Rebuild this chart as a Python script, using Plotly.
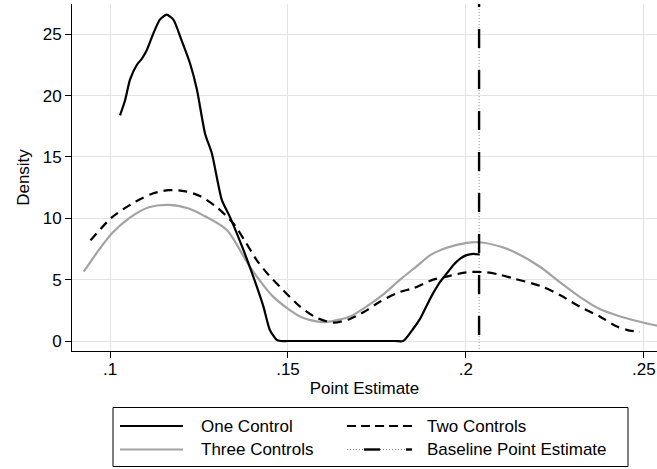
import plotly.graph_objects as go

# ---------------- data ----------------
one_x = [0.1028, 0.1042, 0.1056, 0.1075, 0.1089, 0.1103, 0.1122, 0.1140, 0.1159,
         0.1178, 0.1201, 0.1225, 0.1244, 0.1267, 0.1286, 0.1314, 0.1337, 0.1375,
         0.1403, 0.1431, 0.1449, 0.1468, 0.1480, 0.1500, 0.1800, 0.1824, 0.1852,
         0.1871, 0.1890, 0.1908, 0.1927, 0.1946, 0.1965, 0.1983, 0.2002, 0.2020,
         0.2039]
one_y = [18.4, 19.6, 21.3, 22.5, 23.0, 23.7, 25.1, 26.2, 26.6,
         26.2, 24.5, 22.6, 20.5, 16.9, 15.3, 11.5, 10.1, 7.4,
         5.2, 2.8, 0.9, 0.1, 0.0, 0.0, 0.0, 0.0, 1.0,
         1.8, 2.9, 3.9, 4.8, 5.5, 6.2, 6.7, 7.0, 7.1,
         7.05]

two_x = [0.0945, 0.1006, 0.1071, 0.1118, 0.1165, 0.1212, 0.1254, 0.1300, 0.1346,
         0.1380, 0.1412, 0.1445, 0.1478, 0.1534, 0.1580, 0.1627, 0.1674, 0.1721,
         0.1758, 0.1815, 0.1852, 0.1908, 0.1946, 0.2002, 0.2058, 0.2096, 0.2133,
         0.2208, 0.2264, 0.2320, 0.2376, 0.2423, 0.2460, 0.2489]
two_y = [8.2, 10.1, 11.35, 12.0, 12.3, 12.2, 11.8, 10.9, 9.6,
         8.1, 6.6, 5.4, 4.4, 2.8, 1.9, 1.5, 1.8, 2.5,
         3.2, 4.0, 4.3, 5.0, 5.25, 5.6, 5.6, 5.4, 5.1,
         4.5, 3.75, 2.8, 2.0, 1.2, 0.85, 0.75]

three_x = [0.0926, 0.0968, 0.1006, 0.1053, 0.1109, 0.1165, 0.1221, 0.1258, 0.1328,
           0.1393, 0.1459, 0.1534, 0.1580, 0.1609, 0.1674, 0.1720, 0.1768, 0.1815,
           0.1862, 0.1900, 0.1946, 0.2002, 0.2039, 0.2096, 0.2133, 0.2208, 0.2264,
           0.2320, 0.2376, 0.2423, 0.2489, 0.2545]
three_y = [5.65, 7.4, 8.8, 10.0, 10.9, 11.1, 10.8, 10.3, 9.05,
           6.05, 3.6, 2.0, 1.6, 1.55, 2.0, 2.8, 3.8, 5.0,
           6.1, 7.0, 7.6, 8.0, 8.05, 7.7, 7.3, 6.05, 4.8,
           3.6, 2.6, 2.1, 1.57, 1.2]

baseline_estimate = 0.2037

x_tick_vals = [0.10, 0.15, 0.20, 0.25]
x_tick_text = [".1", ".15", ".2", ".25"]
y_tick_vals = [0, 5, 10, 15, 20, 25]
y_tick_text = ["0", "5", "10", "15", "20", "25"]

series_names = ["One Control", "Two Controls", "Three Controls", "Baseline Point Estimate"]
x_title = "Point Estimate"
y_title = "Density"

X_RANGE = [0.0893, 0.2537]
Y_RANGE = [-0.815, 27.47]

# ---------------- styling ----------------
FONT = "Liberation Sans, Arial, Helvetica, sans-serif"
FS = 17
GREY = "#a3a3a3"
GRID = "#e3e3e3"

W, H = 657, 469
ML, MR, MT, MB = 72, 0, 4, 118
PW, PH = W - ML - MR, H - MT - MB


def fx(px):
    return (px - ML) / PW


def fy(py):
    return (MT + PH - py) / PH


fig = go.Figure()

fig.add_trace(go.Scatter(x=three_x, y=three_y, mode="lines", name=series_names[2],
                         line=dict(color=GREY, width=2.2, shape="spline", smoothing=0.8),
                         showlegend=False))
fig.add_trace(go.Scatter(x=two_x, y=two_y, mode="lines", name=series_names[1],
                         line=dict(color="black", width=2.2, dash="9px,6px",
                                   shape="spline", smoothing=0.8),
                         showlegend=False))
fig.add_trace(go.Scatter(x=one_x, y=one_y, mode="lines", name=series_names[0],
                         line=dict(color="black", width=2.2, shape="spline", smoothing=0.6),
                         showlegend=False))

# Baseline point estimate: thin dotted line plus thick long dashes
y_top = Y_RANGE[1] + 1.3
fig.add_trace(go.Scatter(x=[baseline_estimate, baseline_estimate], y=[y_top, Y_RANGE[0]],
                         mode="lines", name=series_names[3],
                         line=dict(color="#8a8a8a", width=1, dash="1px,2px"),
                         showlegend=False))
fig.add_trace(go.Scatter(x=[baseline_estimate, baseline_estimate], y=[y_top, Y_RANGE[0]],
                         mode="lines", name=series_names[3],
                         line=dict(color="black", width=2.4, dash="19px,22px"),
                         showlegend=False))

# ---------------- manual legend (Stata style box) ----------------
shapes = []
shapes.append(dict(type="rect", xref="paper", yref="paper",
                   x0=fx(113), x1=fx(628), y0=fy(466.5), y1=fy(407.5),
                   line=dict(color="black", width=1), fillcolor="white", layer="above"))
r1, r2 = 426, 449.5
c1a, c1b = 120, 183
c2a, c2b = 347, 412
shapes.append(dict(type="line", xref="paper", yref="paper", x0=fx(c1a), x1=fx(c1b),
                   y0=fy(r1), y1=fy(r1), line=dict(color="black", width=2.2)))
shapes.append(dict(type="line", xref="paper", yref="paper", x0=fx(c1a), x1=fx(c1b),
                   y0=fy(r2), y1=fy(r2), line=dict(color=GREY, width=2.2)))
shapes.append(dict(type="line", xref="paper", yref="paper", x0=fx(c2a), x1=fx(c2b),
                   y0=fy(r1), y1=fy(r1), line=dict(color="black", width=2.2, dash="9px,5px")))
shapes.append(dict(type="line", xref="paper", yref="paper", x0=fx(c2a), x1=fx(c2b),
                   y0=fy(r2), y1=fy(r2), line=dict(color="#8a8a8a", width=1, dash="1px,2px")))
shapes.append(dict(type="line", xref="paper", yref="paper", x0=fx(364), x1=fx(380),
                   y0=fy(r2), y1=fy(r2), line=dict(color="black", width=2.4)))
shapes.append(dict(type="line", xref="paper", yref="paper", x0=fx(406), x1=fx(412),
                   y0=fy(r2), y1=fy(r2), line=dict(color="black", width=2.4)))

annotations = []
for name, px, py in [(series_names[0], 199, r1), (series_names[2], 199, r2),
                     (series_names[1], 425, r1), (series_names[3], 425, r2)]:
    annotations.append(dict(text=name, xref="paper", yref="paper", x=fx(px), y=fy(py),
                            xanchor="left", yanchor="middle", showarrow=False,
                            font=dict(family=FONT, size=FS, color="black")))

fig.update_layout(
    width=W, height=H,
    margin=dict(l=ML, r=MR, t=MT, b=MB, pad=0),
    paper_bgcolor="white", plot_bgcolor="white",
    font=dict(family=FONT, size=FS, color="black"),
    showlegend=False,
    hovermode=False,
    shapes=shapes,
    annotations=annotations,
    xaxis=dict(range=X_RANGE, tickvals=x_tick_vals, ticktext=x_tick_text,
               showgrid=True, gridcolor=GRID, gridwidth=1, zeroline=False,
               showline=True, linecolor="black", linewidth=1,
               ticks="outside", ticklen=6, tickcolor="black", tickwidth=1,
               ticklabelstandoff=-3,
               tickfont=dict(family=FONT, size=FS, color="black"),
               title=dict(text=x_title, standoff=3,
                          font=dict(family=FONT, size=FS, color="black"))),
    yaxis=dict(range=Y_RANGE, tickvals=y_tick_vals, ticktext=y_tick_text,
               showgrid=True, gridcolor=GRID, gridwidth=1, zeroline=False,
               showline=True, linecolor="black", linewidth=1,
               ticks="outside", ticklen=6, tickcolor="black", tickwidth=1,
               tickfont=dict(family=FONT, size=FS, color="black"),
               title=dict(text=y_title, standoff=8,
                          font=dict(family=FONT, size=FS, color="black"))),
)

fig.write_html("out.html",
               config={"displayModeBar": False, "staticPlot": True},
               post_script="document.body.style.margin='0';document.body.style.overflow='hidden';")
